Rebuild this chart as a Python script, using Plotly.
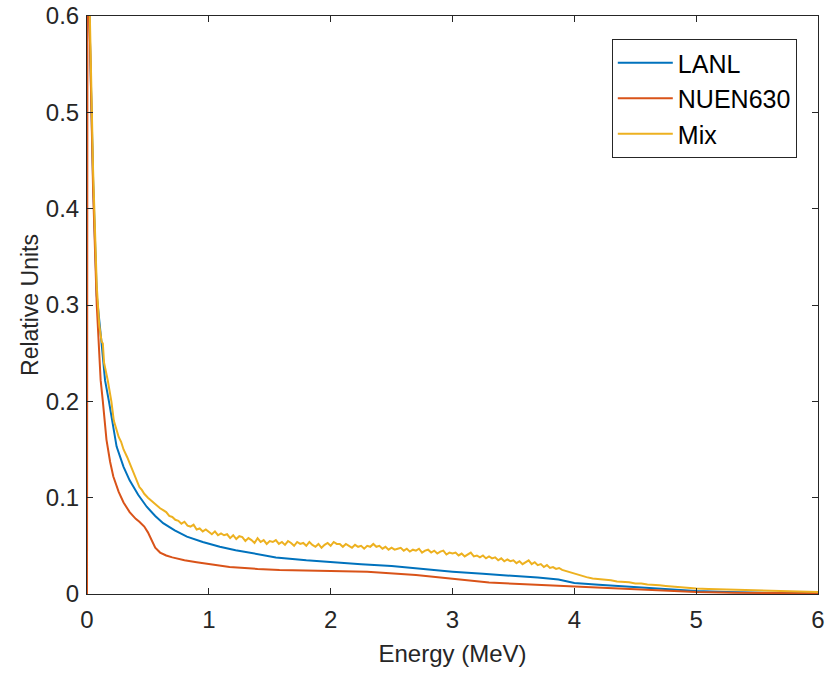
import plotly.graph_objects as go

# ---- data ----
lanl_e = [0.005, 0.02, 0.05, 0.08, 0.12, 0.148, 0.18, 0.243, 0.30, 0.35, 0.42, 0.49, 0.56, 0.625,
          0.72, 0.82, 0.95, 1.09, 1.22, 1.36, 1.55, 1.8, 2.0, 2.25, 2.5, 2.75, 3.0, 3.25, 3.5,
          3.7, 3.87, 4.0, 4.2, 4.42, 4.62, 4.83, 5.0, 5.25, 5.5, 5.75, 6.0]
lanl_v = [0.95, 0.60, 0.43, 0.31, 0.26, 0.222, 0.20, 0.153, 0.132, 0.118, 0.103, 0.0906, 0.081, 0.0735,
          0.066, 0.0595, 0.054, 0.049, 0.0455, 0.042, 0.038, 0.035, 0.033, 0.031, 0.029, 0.026, 0.0232,
          0.021, 0.019, 0.017, 0.015, 0.0115, 0.0095, 0.0076, 0.006, 0.0048, 0.003, 0.002, 0.0012, 0.001, 0.0008]

nuen_e = [0.0, 0.005, 0.02, 0.05, 0.08, 0.10, 0.112, 0.13, 0.16, 0.19, 0.216, 0.26, 0.30, 0.35, 0.40,
          0.43, 0.47, 0.50, 0.53, 0.56, 0.60, 0.65, 0.70, 0.80, 0.90, 1.0, 1.17, 1.4, 1.58, 2.0, 2.3,
          2.7, 3.0, 3.3, 3.55, 3.8, 4.0, 4.2, 4.42, 4.7, 5.0, 5.3, 5.6, 6.0]
nuen_v = [0.0, 0.85, 0.60, 0.42, 0.30, 0.255, 0.222, 0.20, 0.16, 0.137, 0.122, 0.106, 0.095, 0.085, 0.078,
          0.075, 0.070, 0.064, 0.056, 0.048, 0.043, 0.040, 0.038, 0.035, 0.033, 0.031, 0.028, 0.026, 0.025,
          0.024, 0.023, 0.0197, 0.0156, 0.012, 0.0104, 0.009, 0.0075, 0.0065, 0.0055, 0.004, 0.002, 0.0012,
          0.001, 0.0008]

mix_e = [0.005, 0.02, 0.05, 0.08, 0.10, 0.12, 0.13, 0.14, 0.17, 0.20, 0.22, 0.24, 0.26, 0.28, 0.30,
         0.33, 0.35, 0.37, 0.40, 0.43, 0.45, 0.47,
         0.500, 0.525, 0.550, 0.575, 0.600, 0.625, 0.650, 0.675, 0.700, 0.725, 0.750, 0.775, 0.800,
         0.825, 0.850, 0.875, 0.900, 0.925, 0.950, 0.975, 1.000, 1.025, 1.050, 1.075, 1.100, 1.125,
         1.150, 1.175, 1.200, 1.225, 1.250, 1.275, 1.300, 1.325, 1.350, 1.375, 1.400, 1.425, 1.450,
         1.475, 1.500, 1.525, 1.550, 1.575, 1.600, 1.625, 1.650, 1.675, 1.700, 1.725, 1.750, 1.775,
         1.800, 1.825, 1.850, 1.875, 1.900, 1.925, 1.950, 1.975, 2.000, 2.025, 2.050, 2.075, 2.100,
         2.125, 2.150, 2.175, 2.200, 2.225, 2.250, 2.275, 2.300, 2.325, 2.350, 2.375, 2.400, 2.425,
         2.450, 2.475, 2.500, 2.525, 2.550, 2.575, 2.600, 2.625, 2.650, 2.675, 2.700, 2.725, 2.750,
         2.775, 2.800, 2.825, 2.850, 2.875, 2.900, 2.925, 2.950, 2.975, 3.000, 3.025, 3.050, 3.075,
         3.100, 3.125, 3.150, 3.175, 3.200, 3.225, 3.250, 3.275, 3.300, 3.325, 3.350, 3.375, 3.400,
         3.425, 3.450, 3.475, 3.500, 3.525, 3.550, 3.575, 3.600, 3.625, 3.650, 3.675, 3.700, 3.725,
         3.750, 3.775, 3.800, 3.825, 3.850, 3.875, 3.900, 3.925, 3.950, 3.975, 4.000,
         4.05, 4.10, 4.15, 4.20, 4.25, 4.30, 4.35, 4.40, 4.45, 4.50, 4.55, 4.60, 4.65, 4.70, 4.75,
         4.80, 4.85, 4.90, 4.95, 5.00, 5.10, 5.20, 5.30, 5.40, 5.50, 5.60, 5.70, 5.80, 5.90, 6.00]
mix_v = [1.0, 0.62, 0.44, 0.32, 0.28, 0.262, 0.26, 0.24, 0.222, 0.20, 0.18, 0.172, 0.163, 0.158, 0.15,
         0.142, 0.136, 0.128, 0.120, 0.111, 0.108, 0.104,
         0.100, 0.097, 0.095, 0.091, 0.089, 0.087, 0.085, 0.081, 0.080, 0.077, 0.076, 0.073, 0.075,
         0.071, 0.070, 0.072, 0.067, 0.068, 0.065, 0.067, 0.064, 0.062, 0.065, 0.061, 0.063, 0.061,
         0.062, 0.058, 0.061, 0.057, 0.060, 0.059, 0.055, 0.058, 0.056, 0.053, 0.058, 0.054, 0.056,
         0.052, 0.055, 0.054, 0.056, 0.052, 0.054, 0.051, 0.055, 0.053, 0.050, 0.054, 0.052, 0.053,
         0.050, 0.054, 0.051, 0.049, 0.052, 0.048, 0.051, 0.053, 0.050, 0.054, 0.052, 0.052, 0.049,
         0.052, 0.050, 0.048, 0.051, 0.049, 0.050, 0.047, 0.050, 0.049, 0.052, 0.049, 0.050, 0.047,
         0.049, 0.046, 0.048, 0.046, 0.047, 0.048, 0.045, 0.047, 0.044, 0.046, 0.045, 0.047, 0.043,
         0.045, 0.046, 0.043, 0.045, 0.042, 0.044, 0.045, 0.041, 0.043, 0.042, 0.043, 0.040, 0.042,
         0.039, 0.041, 0.043, 0.039, 0.040, 0.038, 0.040, 0.037, 0.039, 0.037, 0.038, 0.035, 0.037,
         0.034, 0.036, 0.034, 0.035, 0.032, 0.034, 0.031, 0.033, 0.035, 0.031, 0.033, 0.030, 0.031,
         0.028, 0.030, 0.027, 0.028, 0.026, 0.027, 0.025, 0.024, 0.023, 0.022, 0.021,
         0.019, 0.0175, 0.016, 0.0155, 0.0145, 0.0142, 0.013, 0.0128, 0.0122, 0.011, 0.0108, 0.0098,
         0.0096, 0.009, 0.0084, 0.0078, 0.0072, 0.0066, 0.0062, 0.0057,
         0.0052, 0.0048, 0.0042, 0.0041, 0.0035, 0.0031, 0.0027, 0.0025, 0.0022, 0.002]

series_names = ["LANL", "NUEN630", "Mix"]
colors = ["#0072BD", "#D95319", "#EDB120"]
x_ticks = [0, 1, 2, 3, 4, 5, 6]
y_ticks = [0, 0.1, 0.2, 0.3, 0.4, 0.5, 0.6]
y_tick_text = ["0", "0.1", "0.2", "0.3", "0.4", "0.5", "0.6"]

FONT = "Liberation Sans, Arial, sans-serif"
AX = "#262626"

fig = go.Figure()
for name, xs, ys, c in zip(series_names, [lanl_e, nuen_e, mix_e], [lanl_v, nuen_v, mix_v], colors):
    fig.add_trace(go.Scatter(x=xs, y=ys, mode="lines", name=name,
                             line=dict(color=c, width=2)))

axis_common = dict(showgrid=False, zeroline=False, showline=True, linecolor=AX, linewidth=1,
                   mirror="ticks", ticks="inside", ticklen=6, tickcolor=AX, tickwidth=1,
                   automargin=False,
                   tickfont=dict(family=FONT, size=24, color=AX))

fig.update_layout(
    width=830, height=675,
    margin=dict(l=87, r=12, t=16, b=81),
    paper_bgcolor="white", plot_bgcolor="white",
    xaxis=dict(range=[0, 6], tickvals=x_ticks, ticklabelstandoff=4,
               title=dict(text="Energy (MeV)", font=dict(family=FONT, size=24, color=AX), standoff=13),
               **axis_common),
    yaxis=dict(range=[0, 0.6], tickvals=y_ticks, ticktext=y_tick_text, ticklabelstandoff=2,
               title=dict(text="Relative Units", font=dict(family=FONT, size=23, color=AX), standoff=0),
               **axis_common),
    legend=dict(x=0.971, y=0.96, xanchor="right", yanchor="top",
                bgcolor="white", bordercolor=AX, borderwidth=1,
                font=dict(family=FONT, size=25, color="black"),
                itemwidth=55, tracegroupgap=0),
    showlegend=True,
)

fig.write_html("out.html")
